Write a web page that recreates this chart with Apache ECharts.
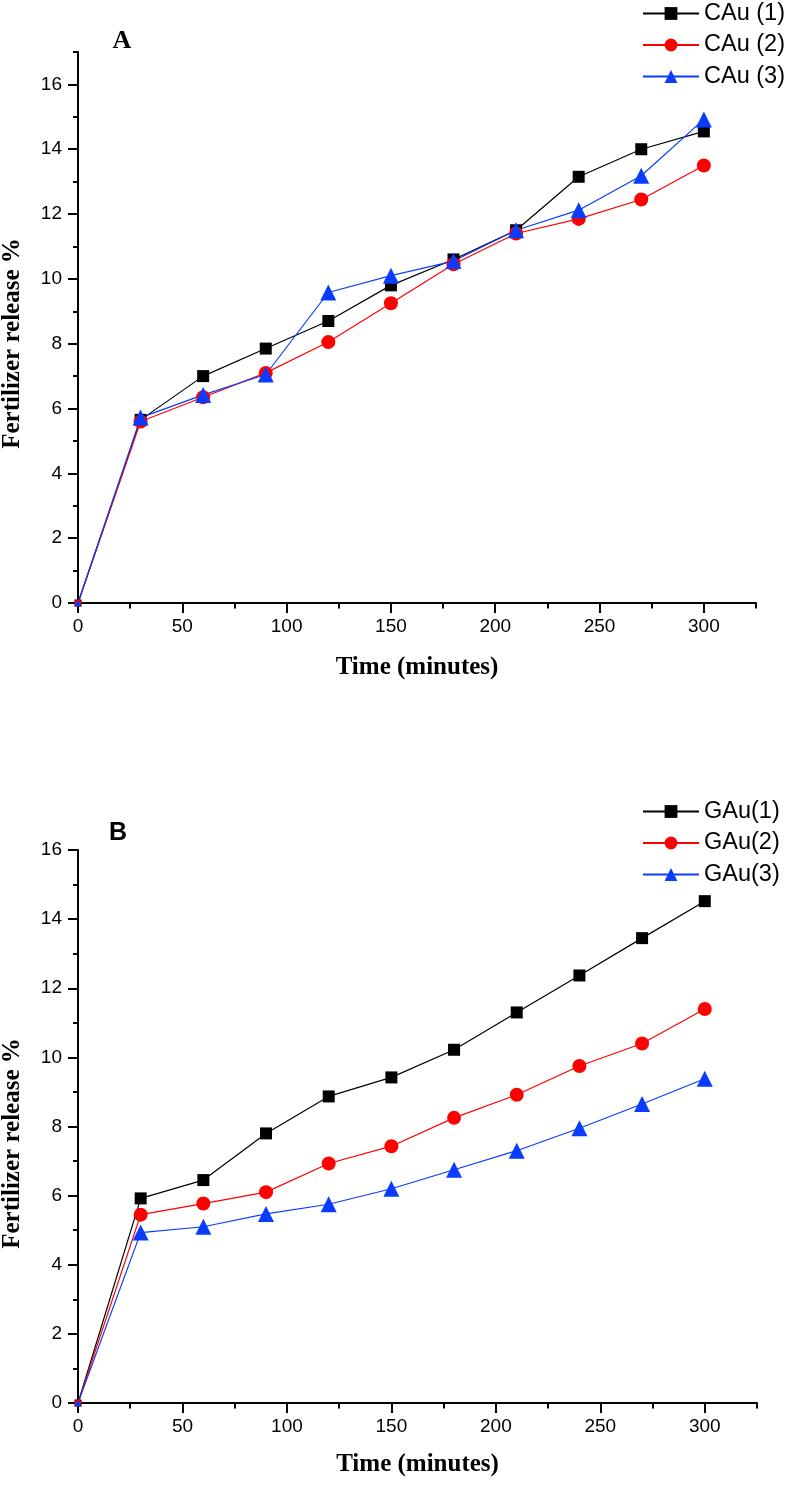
<!DOCTYPE html>
<html>
<head>
<meta charset="utf-8">
<script src="https://cdn.jsdelivr.net/npm/echarts@6/dist/echarts.min.js"></script>
<style>
html,body{margin:0;padding:0;background:#fff;}
#chart{width:792px;height:1485px;}
</style>
</head>
<body>
<div id="chart"></div>
<script>
// ---- data ----
const timeMinutes = [0, 30, 60, 90, 120, 150, 180, 210, 240, 270, 300];
const namesA = ['CAu (1)', 'CAu (2)', 'CAu (3)'];
const namesB = ['GAu(1)', 'GAu(2)', 'GAu(3)'];
const cau1 = [0, 5.65, 7.0, 7.85, 8.7, 9.8, 10.6, 11.5, 13.15, 14.0, 14.55];
const cau2 = [0, 5.6, 6.35, 7.1, 8.05, 9.25, 10.45, 11.4, 11.85, 12.45, 13.5];
const cau3 = [0, 5.72, 6.42, 7.05, 9.58, 10.1, 10.55, 11.5, 12.12, 13.18, 14.92];
const gau1 = [0, 5.92, 6.45, 7.8, 8.87, 9.42, 10.22, 11.3, 12.37, 13.45, 14.52];
const gau2 = [0, 5.45, 5.77, 6.1, 6.93, 7.43, 8.25, 8.92, 9.75, 10.4, 11.4];
const gau3 = [0, 4.93, 5.1, 5.47, 5.75, 6.2, 6.75, 7.3, 7.95, 8.65, 9.38];
const xTickLabels = [0, 50, 100, 150, 200, 250, 300];
const yTickLabels = [0, 2, 4, 6, 8, 10, 12, 14, 16];
const panelLabels = ['A', 'B'];
const xTitle = 'Time (minutes)';
const yTitle = 'Fertilizer release %';

// ---- chart ----
const SANS = '"Liberation Sans", Arial, sans-serif';
const SERIF = '"Liberation Serif", "Times New Roman", serif';
const axisColor = '#000';
const colors = ['#000000', '#ff0000', '#0a3cff'];
const symbols = ['rect', 'circle', 'triangle'];
const symSizes = [12, 14, 16];

function mainX(gi, gap) {
  return {
    gridIndex: gi, type: 'value', min: 0, max: 325, interval: 50, position: 'bottom', offset: 0,
    axisLine: { show: true, onZero: false, lineStyle: { color: axisColor, width: 2 } },
    axisTick: { show: true, customValues: xTickLabels, length: 10, lineStyle: { color: axisColor, width: 2 } },
    axisLabel: { customValues: xTickLabels, fontSize: 19, color: '#000', fontFamily: SANS, margin: 14,
      formatter: v => (v > 300 ? '' : String(v)) },
    splitLine: { show: false },
    name: xTitle, nameLocation: 'middle', nameGap: gap,
    nameTextStyle: { fontFamily: SERIF, fontWeight: 'bold', fontSize: 25, color: '#000' }
  };
}
function minorX(gi) {
  return {
    gridIndex: gi, type: 'value', min: 0, max: 325, interval: 25, position: 'bottom', offset: 0,
    axisLine: { show: false }, axisLabel: { show: false }, splitLine: { show: false },
    axisTick: { show: true, length: 5.5, lineStyle: { color: axisColor, width: 2 } }
  };
}
function mainY(gi, max) {
  return {
    gridIndex: gi, type: 'value', min: 0, max: max, interval: 2, position: 'left', offset: 0,
    axisLine: { show: true, onZero: false, lineStyle: { color: axisColor, width: 2 } },
    axisTick: { show: true, customValues: yTickLabels, length: 10, lineStyle: { color: axisColor, width: 2 } },
    axisLabel: { customValues: yTickLabels, fontSize: 19, color: '#000', fontFamily: SANS, margin: 16,
      formatter: v => (v > 16 ? '' : String(v)) },
    splitLine: { show: false }
  };
}
function minorY(gi, max) {
  return {
    gridIndex: gi, type: 'value', min: 0, max: max, interval: 1, position: 'left', offset: 0,
    axisLine: { show: false }, axisLabel: { show: false }, splitLine: { show: false },
    axisTick: { show: true, length: 5, lineStyle: { color: axisColor, width: 2 } }
  };
}
function makeSeries(name, values, k, gi) {
  return {
    type: 'line', name: name,
    xAxisIndex: gi * 2, yAxisIndex: gi * 2,
    data: timeMinutes.map((t, i) => [t, values[i]]),
    symbol: symbols[k],
    symbolSize: (v, p) => (p.dataIndex === 0 ? 7 : symSizes[k]),
    color: colors[k],
    itemStyle: { color: colors[k] },
    lineStyle: { color: colors[k], width: 1.2 },
    clip: false,
    animation: false
  };
}

const seriesA = [cau1, cau2, cau3].map((d, k) => makeSeries(namesA[k], d, k, 0));
const seriesB = [gau1, gau2, gau3].map((d, k) => makeSeries(namesB[k], d, k, 1));

function legend(names, top) {
  return {
    data: names, orient: 'vertical', left: 642, top: top, padding: 0,
    itemWidth: 56, itemHeight: 16, itemGap: 7.5,
    textStyle: { fontSize: 23.5, fontFamily: SANS, color: '#000', lineHeight: 23 }
  };
}

const option = {
  backgroundColor: '#fff',
  animation: false,
  grid: [
    { left: 78, top: 52, width: 678, height: 551 },
    { left: 78, top: 850, width: 679, height: 553 }
  ],
  xAxis: [mainX(0, 52), minorX(0), mainX(1, 49), minorX(1)],
  yAxis: [mainY(0, 17), minorY(0, 17), mainY(1, 16), minorY(1, 16)],
  legend: [legend(namesA, 1.5), legend(namesB, 799.5)],
  graphic: [
    { type: 'text', x: 122, y: 41, style: { text: panelLabels[0], fontFamily: SERIF, fontWeight: 'bold', fontSize: 26, fill: '#000', align: 'center', verticalAlign: 'middle' } },
    { type: 'text', x: 118, y: 833, style: { text: panelLabels[1], fontFamily: SANS, fontWeight: 'bold', fontSize: 25, fill: '#000', align: 'center', verticalAlign: 'middle' } },
    { type: 'text', x: 13, y: 343.5, rotation: Math.PI / 2, style: { text: yTitle, fontFamily: SERIF, fontWeight: 'bold', fontSize: 25, fill: '#000', align: 'center', verticalAlign: 'middle' } },
    { type: 'text', x: 12.5, y: 1143.5, rotation: Math.PI / 2, style: { text: yTitle, fontFamily: SERIF, fontWeight: 'bold', fontSize: 25, fill: '#000', align: 'center', verticalAlign: 'middle' } }
  ],
  series: seriesA.concat(seriesB)
};

const chart = echarts.init(document.getElementById('chart'), null, { renderer: 'canvas' });
chart.setOption(option);
</script>
</body>
</html>
